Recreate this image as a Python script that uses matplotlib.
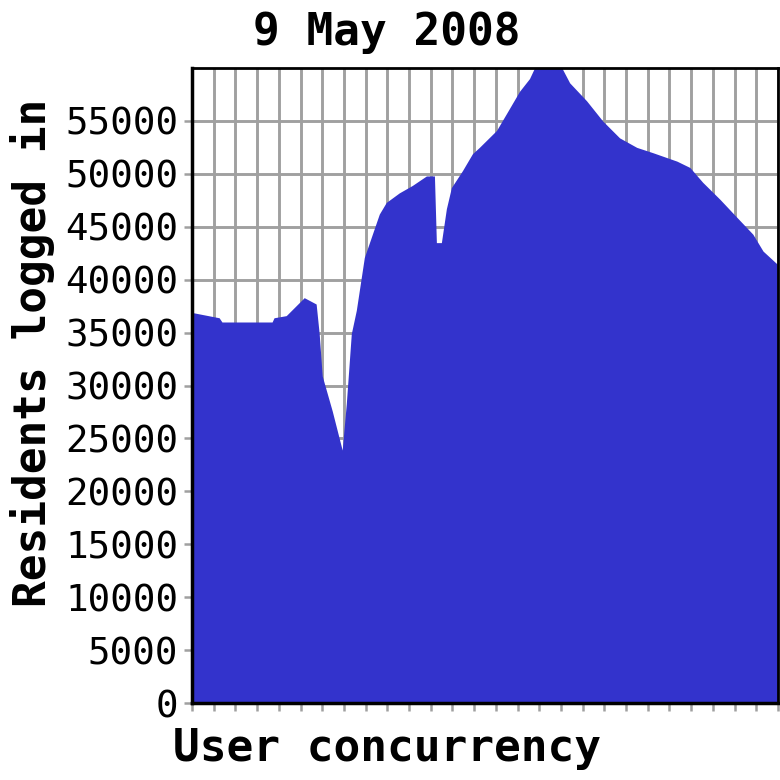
#!/usr/bin/env python3
# -*- coding: utf-8 -*-

import numpy as np
import matplotlib
matplotlib.use("Agg")
import matplotlib.pyplot as plt

# position along the day, in grid steps (27 steps across the plot)
slot = [0.00, 1.25, 1.38, 3.69, 3.78, 4.34, 5.17, 5.72, 5.86, 6.00,
        6.46, 6.92, 7.11, 7.34, 7.57, 7.94, 8.31, 8.63, 8.95, 9.55,
        10.15, 10.80, 11.17, 11.26, 11.49, 11.72, 11.95, 12.46, 12.92, 13.24,
        14.03, 14.49, 15.09, 15.55, 15.87, 16.94, 17.40, 18.18, 18.92, 19.70,
        20.49, 21.23, 22.34, 22.94, 23.53, 24.32, 25.10, 25.84, 26.31, 27.00]
residents = [36900, 36400, 36000, 36000, 36400, 36600, 38300, 37700, 34900, 30900,
             27600, 23900, 28300, 34900, 37100, 42100, 44300, 46200, 47300, 48200,
             48900, 49800, 49800, 43500, 43500, 46700, 48700, 50300, 51900, 52500,
             54100, 55700, 57800, 59000, 60400, 60400, 58600, 56900, 55000, 53400,
             52500, 52000, 51200, 50600, 49200, 47600, 45900, 44300, 42700, 41400]
yticks = list(range(0, 60000, 5000))

fig = plt.figure(figsize=(7.8, 7.8), dpi=100)
ax = fig.add_axes([192/780, 1-703/780, 586/780, 635/780])

ax.fill_between(slot, residents, 0, color="#3333cc", lw=0, zorder=2)
ax.set_xlim(0, 27)
ax.set_ylim(0, 60000)
ax.set_xticks(np.arange(0, 28))
ax.set_xticklabels([])
ax.set_yticks(yticks)
ax.set_yticklabels([str(v) for v in yticks], family="DejaVu Sans Mono", fontsize=27)
ax.grid(True, color="#a0a0a0", lw=2.1, zorder=1)
ax.set_axisbelow(True)
ax.tick_params(axis="both", color="#a0a0a0", length=6, width=1.8, pad=4)
for side in ["left", "bottom"]:
    ax.spines[side].set_linewidth(2.5)
for side in ["top", "right"]:
    ax.spines[side].set_linewidth(2.0)
for s in ax.spines.values():
    s.set_zorder(3)

mono = dict(family="DejaVu Sans Mono", weight="bold", fontsize=32)
fig.text(387/780, 1-32/780, "9 May 2008", ha="center", va="center", **mono)
fig.text(387/780, 1-748/780, "User concurrency", ha="center", va="center", **mono)
fig.text(33/780, 1-353/780, "Residents logged in", ha="center", va="center",
         rotation=90, **mono)

plt.savefig("out.png", dpi=100)
